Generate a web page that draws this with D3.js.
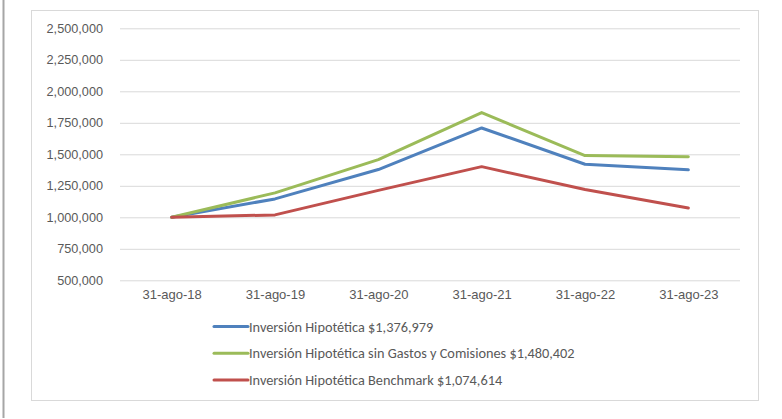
<!DOCTYPE html>
<html lang="es">
<head>
<meta charset="UTF-8">
<title>Inversión Hipotética</title>
<style>
  body { margin: 0; background: #fff; }
  svg { display: block; font-family: Calibri, Carlito, "Liberation Sans", "Open Sans", sans-serif; }
</style>
</head>
<body>
<script src="https://cdn.jsdelivr.net/npm/d3@7"></script>
<script>
  const fechas = ['31-ago-18', '31-ago-19', '31-ago-20', '31-ago-21', '31-ago-22', '31-ago-23'];
  const inversion = [1000000, 1146000, 1379000, 1709000, 1421000, 1376979];
  const sinGastos = [1000000, 1194000, 1458000, 1831000, 1490000, 1480402];
  const benchmark = [1000000, 1019000, 1214000, 1402000, 1220000, 1074614];
  const yTicks = [500000, 750000, 1000000, 1250000, 1500000, 1750000, 2000000, 2250000, 2500000];

  const series = [
    { name: 'Inversión Hipotética $1,376,979', values: inversion, color: '#4f81bd' },
    { name: 'Inversión Hipotética sin Gastos y Comisiones $1,480,402', values: sinGastos, color: '#9bbb59' },
    { name: 'Inversión Hipotética Benchmark $1,074,614', values: benchmark, color: '#c0504d' }
  ];

  const w = 782;
  const h = 419;
  const plot = { left: 120, right: 740, top: 28.3, bottom: 280.3 };

  const svg = d3.select('body')
    .append('svg')
    .attr('width', w)
    .attr('height', h);

  // gray bar at the far left and chart frame
  svg.append('line')
    .attr('x1', 3.5).attr('x2', 3.5)
    .attr('y1', 0).attr('y2', 418)
    .attr('stroke', '#a6a6a6')
    .attr('stroke-width', 2);

  svg.append('rect')
    .attr('x', 31.5).attr('y', 10.5)
    .attr('width', 727).attr('height', 390)
    .attr('fill', '#fff')
    .attr('stroke', '#d9d9d9');

  const xScale = d3.scalePoint()
    .domain(fechas)
    .range([plot.left, plot.right])
    .padding(0.5);

  const yScale = d3.scaleLinear()
    .domain([500000, 2500000])
    .range([plot.bottom, plot.top]);

  // gridlines + y labels
  const yAxis = d3.axisLeft(yScale)
    .tickValues(yTicks)
    .tickSize(-(plot.right - plot.left))
    .tickPadding(17)
    .tickFormat(d3.format(','));

  svg.append('g')
    .attr('transform', `translate(${plot.left},0)`)
    .call(yAxis)
    .call(g => g.select('.domain').remove())
    .call(g => g.selectAll('line').attr('stroke', '#d9d9d9').attr('stroke-width', 1))
    .call(g => g.selectAll('text').attr('fill', '#595959').attr('font-size', 12.7));

  const xAxis = d3.axisBottom(xScale).tickSize(0).tickPadding(9);

  svg.append('g')
    .attr('transform', `translate(0,${plot.bottom})`)
    .call(xAxis)
    .call(g => g.select('.domain').remove())
    .call(g => g.selectAll('text').attr('fill', '#595959').attr('font-size', 13));

  const line = d3.line()
    .x((d, i) => xScale(fechas[i]))
    .y(d => yScale(d));

  svg.selectAll('path.serie')
    .data(series)
    .enter()
    .append('path')
    .attr('class', 'serie')
    .attr('d', d => line(d.values))
    .attr('fill', 'none')
    .attr('stroke', d => d.color)
    .attr('stroke-width', 3)
    .attr('stroke-linejoin', 'round')
    .attr('stroke-linecap', 'round');

  // legend
  const legend = svg.selectAll('g.leyenda')
    .data(series)
    .enter()
    .append('g')
    .attr('class', 'leyenda')
    .attr('transform', (d, i) => `translate(214,${326.5 + i * 26.7})`);

  legend.append('line')
    .attr('x1', 0).attr('x2', 34)
    .attr('stroke', d => d.color)
    .attr('stroke-width', 3)
    .attr('stroke-linecap', 'round');

  legend.append('text')
    .attr('x', 35)
    .attr('dy', '0.35em')
    .attr('fill', '#595959')
    .attr('font-size', 14.3)
    .text(d => d.name);
</script>
</body>
</html>
